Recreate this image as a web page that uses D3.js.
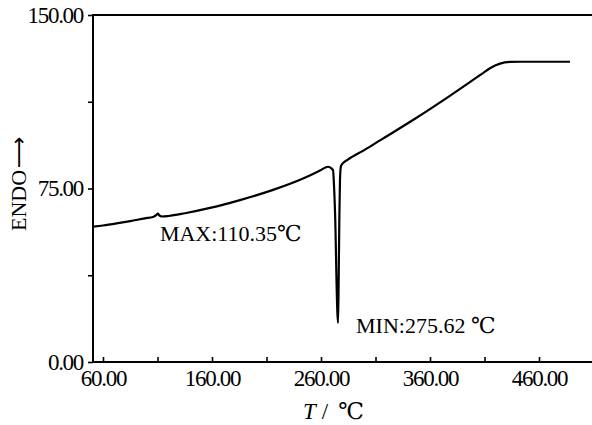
<!DOCTYPE html>
<html>
<head>
<meta charset="utf-8">
<script src="https://cdn.jsdelivr.net/npm/d3@7"></script>
<style>
  html, body { margin: 0; padding: 0; background: #fff; }
  svg { display: block; }
  text { font-family: "Liberation Serif", "DejaVu Serif", "Times New Roman", serif; fill: #000; }
</style>
</head>
<body>
<svg id="chart" width="592" height="425"></svg>
<script>
// ---- data ----
const temps = [51, 60, 73.8, 85, 98.5, 105.9, 109.5, 110.35, 111.4, 114.1, 120, 135.2, 158.2, 185.7, 216, 247.2, 260, 266.4, 271, 271.9, 273.3, 274.2, 275.62, 276.2, 276.8, 277.4, 278.3, 279.5, 285, 300, 314.1, 344.4, 376.5, 408.6, 415, 424.2, 433.4, 442.6, 488.4];
const endo  = [58.5, 59.0, 60.0, 60.9, 62.1, 62.7, 63.8, 64.2, 63.5, 62.9, 63.1, 64.3, 66.6, 70.0, 74.4, 80.1, 83.0, 84.4, 83.0, 76.5, 57.1, 35.4, 16.9, 35.4, 61.4, 78.7, 84.7, 85.6, 87.6, 91.7, 95.8, 104.6, 114.5, 124.9, 127.0, 129.0, 129.7, 129.8, 129.8];
const xTicks = [60, 110, 160, 210, 260, 310, 360, 410, 460];
const xTickLabels = ["60.00", "", "160.00", "", "260.00", "", "360.00", "", "460.00"];
const yTicks = [0, 37.5, 75, 112.5, 150];
const yTickLabels = ["0.00", "", "75.00", "", "150.00"];
const annotations = [
  { text: "MAX:110.35℃", T: 110.35, v: 64.2 },
  { text: "MIN:275.62 ℃", T: 275.62, v: 16.9 }
];

const svg = d3.select("#chart");
const mLeft = 93, mRight = 592, mTop = 15, mBottom = 362;

const x = d3.scaleLinear().domain([50.83, 508.6]).range([mLeft, mRight]);
const y = d3.scaleLinear().domain([0, 150]).range([mBottom, mTop]);

// frame (top + left + bottom lines)
svg.append("path")
  .attr("d", d3.line()([[mRight, y(150)], [mLeft, y(150)], [mLeft, y(0)], [mRight, y(0)]]))
  .attr("fill", "none").attr("stroke", "#000").attr("stroke-width", 2);

// x axis: ticks pointing inward
const xAxis = d3.axisBottom(x).tickValues(xTicks)
  .tickSize(-5).tickPadding(7)
  .tickFormat((d, i) => xTickLabels[i]);
const gx = svg.append("g").attr("transform", `translate(0,${y(0)})`).call(xAxis);
gx.select(".domain").remove();
gx.selectAll(".tick line").attr("stroke", "#000").attr("stroke-width", 1.6);
gx.selectAll(".tick text").attr("font-size", 23).attr("letter-spacing", "-1.3px")
  .attr("dy", "0.72em");

// y axis: ticks pointing outward
const yAxis = d3.axisLeft(y).tickValues(yTicks)
  .tickSize(5).tickPadding(5)
  .tickFormat((d, i) => yTickLabels[i]);
const gy = svg.append("g").attr("transform", `translate(${mLeft},0)`).call(yAxis);
gy.select(".domain").remove();
gy.selectAll(".tick line").attr("stroke", "#000").attr("stroke-width", 1.6);
gy.selectAll(".tick text").attr("font-size", 23).attr("letter-spacing", "-1.3px");

// curve
const pts = temps.map((t, i) => [t, endo[i]]);
svg.append("path")
  .datum(pts)
  .attr("d", d3.line().x(d => x(d[0])).y(d => y(d[1])).curve(d3.curveMonotoneX))
  .attr("fill", "none").attr("stroke", "#000").attr("stroke-width", 2.2)
  .attr("stroke-linejoin", "round");

// annotations
svg.append("text")
  .attr("x", x(annotations[0].T) + 2).attr("y", y(annotations[0].v) + 28)
  .attr("font-size", 22).text(annotations[0].text);
svg.append("text")
  .attr("x", x(annotations[1].T) + 18).attr("y", y(annotations[1].v) + 10)
  .attr("font-size", 22).text(annotations[1].text);

// axis titles
const xt = svg.append("text").attr("x", 303).attr("y", 419).attr("font-size", 23);
xt.append("tspan").attr("font-style", "italic").text("T");
xt.append("tspan").attr("dx", 6).text("/");
xt.append("tspan").attr("dx", 10).text("℃");

const yt = svg.append("text")
  .attr("transform", "translate(26,231) rotate(-90)")
  .attr("font-size", 22);
yt.append("tspan").text("ENDO");
yt.append("tspan").attr("dx", 2).attr("font-family", "DejaVu Sans").text("⟶");
</script>
</body>
</html>
